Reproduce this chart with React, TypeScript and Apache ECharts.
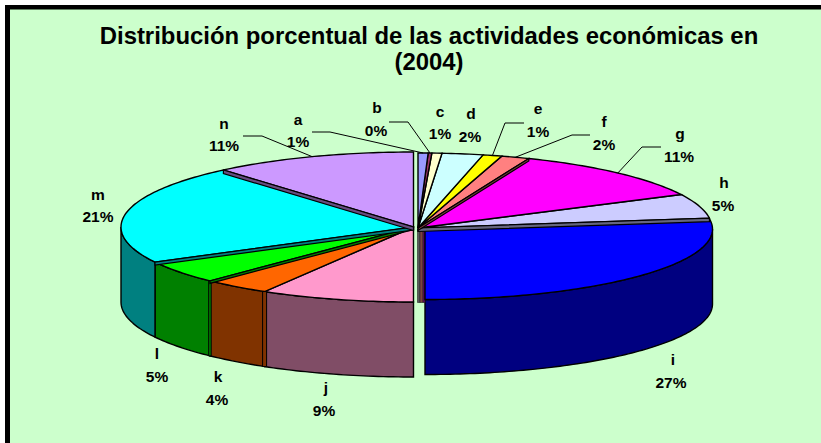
import React, { useEffect, useRef } from "react";
import * as echarts from "echarts";

const TITLE = "Distribución porcentual de las actividades económicas en\n(2004)";
const categories = ["a", "b", "c", "d", "e", "f", "g", "h", "i", "j", "k", "l", "m", "n"];
const shares = [0.55, 0.2, 0.55, 2.25, 1.05, 1.55, 11.49, 5.26, 27.1, 8.5, 3.75, 5.0, 21.49, 11.26];

const FACE = ["#9999FF", "#993366", "#FFFFCC", "#CCFFFF", "#FFFF00", "#FF8080", "#FF00FF", "#CCCCFF", "#0000FF", "#FF99CC", "#FF6600", "#00FF00", "#00FFFF", "#CC99FF"];
const WALL = ["#4D4D80", "#4D1A33", "#808066", "#668080", "#808000", "#804040", "#800080", "#666680", "#000080", "#804D66", "#803300", "#008000", "#008080", "#664D80"];

// layout: [name x, name y, percent x, percent y]
const LABEL_POS: number[][] = [
  [298, 119, 298, 141], [377, 107, 376, 130], [440, 111, 440, 133], [471, 113, 470, 136],
  [538, 108, 538, 131], [604, 121, 604, 144], [680, 133, 679, 156], [724, 182, 723, 205],
  [673, 359, 671, 382], [326, 387, 324, 410], [218, 376, 217, 399], [157, 353, 157, 376],
  [98, 194, 98, 216], [224, 123, 224, 145],
];
// leader elbows: label end, knee
const LEADERS: Record<number, number[][]> = {
  0: [[312, 132], [330, 132]],
  1: [[389, 122], [408, 122]],
  4: [[524, 123], [505, 123]],
  5: [[590, 135], [572, 135]],
  6: [[661, 147], [642, 147]],
  13: [[243, 136], [262, 136]],
};
// strip below a radial edge
const EDGE_STRIPS: Record<number, { end?: number; start?: number }> = {
  5: { end: 2.5 },
  7: { end: 3.5 },
  12: { start: 3 },
  11: { start: 2.5 },
  13: { start: 3.5 },
};
const SIDE_STRIPS: Record<number, number> = { 10: 4, 11: 2.5 };
const DEPTH = 75;
const DRAW_ORDER = [8, 7, 6, 5, 4, 3, 2, 1, 0, 9, 10, 11, 12, 13];

const total = shares.reduce((a, b) => a + b, 0);
const cumulative: number[] = [];
shares.reduce((acc, v, i) => { cumulative[i] = acc; return acc + v; }, 0);

function geometry(i: number) {
  if (i === 8) return { cx: 425, cy: 229, rx: 287.5, ry: 70.5 };
  if (i < 8) return { cx: 418, cy: 228, rx: 294, ry: 75 };
  return { cx: 413.5, cy: 227, rx: 292.5, ry: 75 };
}
const deg = (pct: number) => (pct / total) * 360;
const rim = (g: any, a: number, dy = 0) => [
  g.cx + g.rx * Math.sin((a * Math.PI) / 180),
  g.cy - g.ry * Math.cos((a * Math.PI) / 180) + dy,
];
function arc(g: any, a0: number, a1: number, dy = 0) {
  const pts: number[][] = [];
  const n = Math.max(2, Math.ceil(Math.abs(a1 - a0)));
  for (let k = 0; k <= n; k++) pts.push(rim(g, a0 + ((a1 - a0) * k) / n, dy));
  return pts;
}

const LINE = { stroke: "#000", lineWidth: 1.4 };
const FONT = 'bold 15.5px "Liberation Sans", Arial, sans-serif';

function renderSlice(_: any, api: any) {
  const i = api.value(0) as number;
  const g = geometry(i);
  const a0 = deg(cumulative[i]);
  const a1 = deg(cumulative[i] + shares[i]);
  const children: any[] = [];

  // outer wall
  const w0 = Math.max(a0, 90);
  const w1 = Math.min(a1, 270);
  if (w1 > w0) {
    const top = arc(g, w0, w1);
    const bottom = arc(g, w1, w0, DEPTH);
    children.push({ type: "polygon", shape: { points: [...top, ...bottom] }, style: { fill: WALL[i], ...LINE } });
  }
  // exposed radial wall of the exploded gap
  if (i === 8) {
    const bands: [number, number, string][] = [[-7.5, 2.5, "#5A5A5A"], [-5, 3, "#804040"], [-2, 2, "#660066"]];
    bands.forEach(([o, w, c]) =>
      children.push({ type: "rect", shape: { x: g.cx + o, y: g.cy, width: w, height: g.ry + 3 }, style: { fill: c, stroke: "#222", lineWidth: 0.6 } })
    );
  }
  // top face
  children.push({
    type: "polygon",
    shape: { points: [[g.cx, g.cy], ...arc(g, a0, a1)] },
    style: { fill: FACE[i], ...LINE },
  });
  // wall strip at the start of a front boundary
  if (SIDE_STRIPS[i]) {
    const p = rim(g, a0);
    children.push({
      type: "rect",
      shape: { x: p[0] - SIDE_STRIPS[i] / 2, y: p[1], width: SIDE_STRIPS[i], height: DEPTH },
      style: { fill: WALL[i], stroke: "#000", lineWidth: 1 },
    });
  }
  // strips under radial edges
  const strips = EDGE_STRIPS[i];
  if (strips) {
    const edge = (a: number, h: number) => {
      const p = rim(g, a);
      children.push({
        type: "polygon",
        shape: { points: [[g.cx, g.cy], p, [p[0], p[1] + h], [g.cx, g.cy + h]] },
        style: { fill: WALL[i], stroke: "#000", lineWidth: 1.2 },
      });
    };
    if (strips.start) edge(a0, strips.start);
    if (strips.end) edge(a1, strips.end);
  }
  // leader
  if (LEADERS[i]) {
    children.push({
      type: "polyline",
      shape: { points: [...LEADERS[i], rim(g, (a0 + a1) / 2)] },
      style: { fill: "none", stroke: "#000", lineWidth: 1 },
    });
  }
  // labels
  const [nx, ny, px, py] = LABEL_POS[i];
  const txt = (text: string, x: number, y: number) => ({
    type: "text",
    x,
    y,
    style: { text, fill: "#000", font: FONT, align: "center", verticalAlign: "middle" },
  });
  children.push(txt(categories[i], nx, ny));
  children.push(txt(`${Math.round((shares[i] / total) * 100 + 1e-6)}%`, px, py));
  return { type: "group", children };
}

export default function App() {
  const ref = useRef<HTMLDivElement>(null);
  useEffect(() => {
    document.body.style.margin = "0";
    const chart = echarts.init(ref.current!, undefined, { renderer: "svg" });
    chart.setOption({
      animation: false,
      backgroundColor: "#FFFFFF",
      graphic: [
        { type: "rect", shape: { x: 5, y: 5, width: 816, height: 438 }, style: { fill: "#000" } },
        { type: "rect", shape: { x: 10, y: 9, width: 811, height: 434 }, style: { fill: "#5F7F5F" } },
        { type: "rect", shape: { x: 10, y: 10, width: 811, height: 433 }, style: { fill: "#CCFFCC" } },
      ],
      title: {
        text: TITLE,
        left: 424,
        top: 17,
        textAlign: "center",
        textStyle: { fontFamily: '"Liberation Sans", Arial, sans-serif', fontWeight: "bold", fontSize: 23.9, lineHeight: 26, color: "#000" },
      },
      series: [
        {
          type: "custom",
          coordinateSystem: "none",
          silent: true,
          renderItem: renderSlice,
          data: DRAW_ORDER.map((i) => [i, shares[i]]),
        },
      ],
    });
    return () => chart.dispose();
  }, []);
  return <div ref={ref} style={{ width: 821, height: 443 }} />;
}
